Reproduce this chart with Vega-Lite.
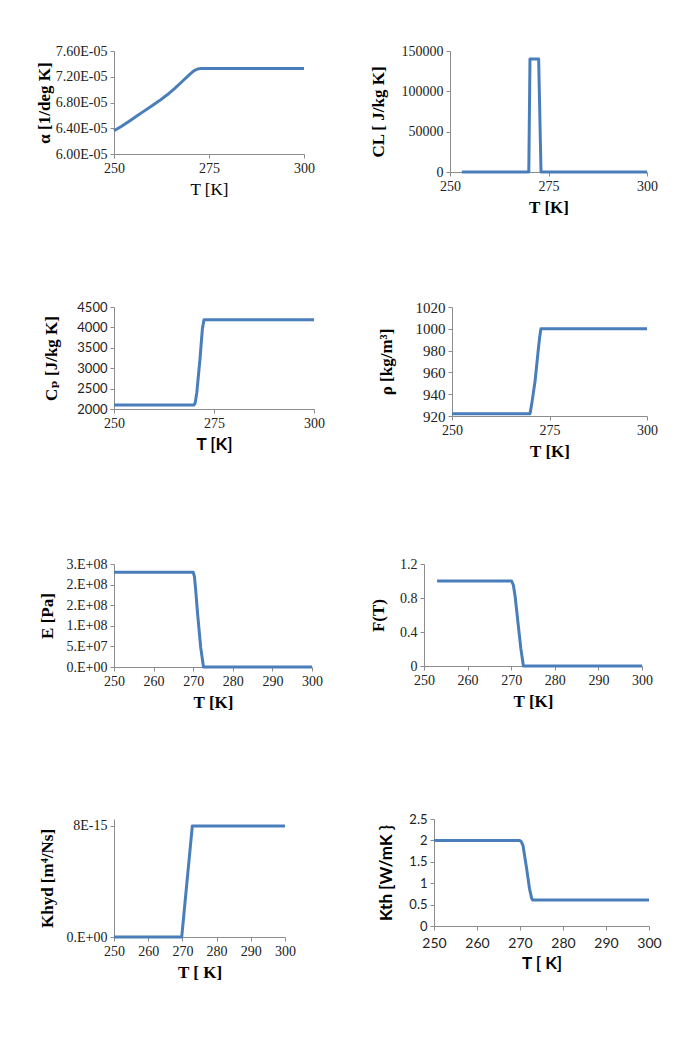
{
"$schema": "https://vega.github.io/schema/vega-lite/v6.json",
"background": "white",
"padding": {"left": 35, "top": 44, "right": 5, "bottom": 5},
"datasets": {
"alpha": [{"T":250,"v":6.36e-5},{"T":252,"v":6.43e-5},{"T":254,"v":6.51e-5},{"T":256,"v":6.59e-5},{"T":258,"v":6.67e-5},{"T":260,"v":6.75e-5},{"T":262,"v":6.83e-5},{"T":264,"v":6.92e-5},{"T":266,"v":7.02e-5},{"T":268,"v":7.13e-5},{"T":270,"v":7.24e-5},{"T":271,"v":7.29e-5},{"T":272,"v":7.32e-5},{"T":273,"v":7.33e-5},{"T":300,"v":7.33e-5}],
"cl": [{"T":253,"v":0},{"T":270,"v":0},{"T":270.3,"v":140000},{"T":272.5,"v":140000},{"T":273.1,"v":0},{"T":300,"v":0}],
"cp": [{"T":250,"v":2100},{"T":270,"v":2100},{"T":270.3,"v":2150},{"T":270.7,"v":2400},{"T":271.5,"v":3230},{"T":272.1,"v":3970},{"T":272.5,"v":4190},{"T":300,"v":4190}],
"rho": [{"T":250,"v":922},{"T":270,"v":922},{"T":270.4,"v":930},{"T":271.3,"v":952},{"T":272.1,"v":980},{"T":272.5,"v":993},{"T":272.8,"v":1000},{"T":300,"v":1000}],
"e": [{"T":250,"v":230000000},{"T":270,"v":230000000},{"T":270.3,"v":220000000},{"T":270.6,"v":190000000},{"T":271.1,"v":130000000},{"T":271.9,"v":47000000},{"T":272.6,"v":0},{"T":300,"v":0}],
"f": [{"T":253,"v":1},{"T":270.1,"v":1},{"T":270.5,"v":0.95},{"T":270.9,"v":0.82},{"T":271.6,"v":0.49},{"T":272.2,"v":0.21},{"T":272.8,"v":0},{"T":300,"v":0}],
"khyd": [{"T":250,"v":0},{"T":269.8,"v":0},{"T":272.9,"v":8e-15},{"T":300,"v":8e-15}],
"kth": [{"T":250,"v":2},{"T":269.9,"v":2},{"T":270.3,"v":1.97},{"T":270.7,"v":1.88},{"T":271.5,"v":1.37},{"T":272.2,"v":0.88},{"T":272.7,"v":0.65},{"T":272.9,"v":0.61},{"T":300,"v":0.61}]
},
"spacing": 85,
"vconcat": [
{"hconcat": [
 {"width": 190, "height": 103, "data": {"name": "alpha"}, "mark": {"type": "line"},
  "encoding": {
   "x": {"field": "T", "type": "quantitative", "scale": {"domain": [250, 300], "nice": false, "zero": false}, "axis": {"values": [250, 275, 300], "format": "d", "title": "T [K]", "titleFontWeight": "normal"}},
   "y": {"field": "v", "type": "quantitative", "scale": {"domain": [6e-5, 7.6e-5], "nice": false, "zero": false}, "axis": {"values": [6e-5, 6.4e-5, 6.8e-5, 7.2e-5, 7.6e-5], "labelExpr": "format(datum.value*100000, '.2f') + 'E-05'", "title": "α [1/deg K]", "titlePadding": 2}}
  }},
 {"width": 197, "height": 121, "data": {"name": "cl"}, "mark": {"type": "line"},
  "encoding": {
   "x": {"field": "T", "type": "quantitative", "scale": {"domain": [250, 300], "nice": false, "zero": false}, "axis": {"values": [250, 275, 300], "format": "d", "title": "T [K]"}},
   "y": {"field": "v", "type": "quantitative", "scale": {"domain": [0, 150000], "nice": false}, "axis": {"values": [0, 50000, 100000, 150000], "format": "d", "title": "CL [ J/kg K]", "titlePadding": 14}}
  }}
 ], "spacing": 146, "bounds": "flush"},
{"spacing": 98, "vconcat": [
 {"hconcat": [
  {"width": 200, "height": 102, "data": {"name": "cp"}, "mark": {"type": "line"},
   "encoding": {
    "x": {"field": "T", "type": "quantitative", "scale": {"domain": [250, 300], "nice": false, "zero": false}, "axis": {"values": [250, 275, 300], "format": "d", "title": "T [K]", "titleFont": "Lato"}},
    "y": {"field": "v", "type": "quantitative", "scale": {"domain": [2000, 4500], "nice": false, "zero": false}, "axis": {"values": [2000, 2500, 3000, 3500, 4000, 4500], "format": "d", "labelFont": "Lato", "labelFontSize": 13, "title": "Cₚ [J/kg K]", "titlePadding": 16}}
   }},
  {"width": 195, "height": 109, "data": {"name": "rho"}, "mark": {"type": "line"},
   "encoding": {
    "x": {"field": "T", "type": "quantitative", "scale": {"domain": [250, 300], "nice": false, "zero": false}, "axis": {"values": [250, 275, 300], "format": "d", "title": "T [K]"}},
    "y": {"field": "v", "type": "quantitative", "scale": {"domain": [920, 1020], "nice": false, "zero": false}, "axis": {"values": [920, 940, 960, 980, 1000, 1020], "format": "d", "labelFontSize": 15, "title": "ρ [kg/m³]", "titlePadding": 20}}
   }}
  ], "spacing": 138, "bounds": "flush"},
 {"spacing": 103, "vconcat": [
  {"hconcat": [
   {"width": 198, "height": 103, "data": {"name": "e"}, "mark": {"type": "line"},
    "encoding": {
     "x": {"field": "T", "type": "quantitative", "scale": {"domain": [250, 300], "nice": false, "zero": false}, "axis": {"values": [250, 260, 270, 280, 290, 300], "format": "d", "title": "T [K]"}},
     "y": {"field": "v", "type": "quantitative", "scale": {"domain": [0, 250000000], "nice": false}, "axis": {"values": [0, 50000000, 100000000, 150000000, 200000000, 250000000], "labelExpr": "datum.value == 0 ? '0.E+00' : datum.value == 50000000 ? '5.E+07' : datum.value == 100000000 ? '1.E+08' : datum.value == 250000000 ? '3.E+08' : '2.E+08'", "title": "E [Pa]", "titlePadding": 10}}
    }},
   {"width": 218, "height": 102, "data": {"name": "f"}, "mark": {"type": "line"},
    "encoding": {
     "x": {"field": "T", "type": "quantitative", "scale": {"domain": [250, 300], "nice": false, "zero": false}, "axis": {"values": [250, 260, 270, 280, 290, 300], "format": "d", "title": "T [K]"}},
     "y": {"field": "v", "type": "quantitative", "scale": {"domain": [0, 1.2], "nice": false}, "axis": {"values": [0, 0.4, 0.8, 1.2], "format": "~g", "title": "F(T)", "titlePadding": 12}}
    }}
   ], "spacing": 112, "bounds": "flush"},
  {"hconcat": [
   {"width": 171, "height": 118, "data": {"name": "khyd"}, "mark": {"type": "line"},
    "encoding": {
     "x": {"field": "T", "type": "quantitative", "scale": {"domain": [250, 300], "nice": false, "zero": false}, "axis": {"values": [250, 260, 270, 280, 290, 300], "format": "d", "title": "T [ K]"}},
     "y": {"field": "v", "type": "quantitative", "scale": {"domain": [0, 8.5e-15], "nice": false}, "axis": {"values": [0, 8e-15], "labelExpr": "datum.value == 0 ? '0.E+00' : '8E-15'", "title": "Khyd [m⁴/Ns]", "titlePadding": 10}}
    }},
   {"width": 215, "height": 107, "data": {"name": "kth"}, "mark": {"type": "line"},
    "encoding": {
     "x": {"field": "T", "type": "quantitative", "scale": {"domain": [250, 300], "nice": false, "zero": false}, "axis": {"values": [250, 260, 270, 280, 290, 300], "format": "d", "labelFont": "Lato", "labelPadding": 6, "title": "T [ K]", "titleFont": "Lato", "titlePadding": 5}},
     "y": {"field": "v", "type": "quantitative", "scale": {"domain": [0, 2.5], "nice": false}, "axis": {"values": [0, 0.5, 1, 1.5, 2, 2.5], "format": "~g", "labelFont": "Lato", "labelFontSize": 13, "title": "Kth [W/mK }", "titleFont": "Lato", "titlePadding": 13}}
    }}
   ], "spacing": 149, "bounds": "flush"}
 ]}
]}
],
"config": {
 "view": {"stroke": null},
 "line": {"color": "#4a7ebb", "strokeWidth": 3, "strokeJoin": "round"},
 "axis": {"grid": false, "domainColor": "#8c8c8c", "tickColor": "#8c8c8c", "tickSize": 4, "labelFont": "Liberation Serif, Times New Roman, Tinos, DejaVu Serif, serif", "labelFontSize": 14, "labelColor": "#222222", "labelPadding": 3, "labelFlush": false, "labelOverlap": false, "labelBound": false, "titleFont": "Liberation Serif, Times New Roman, Tinos, DejaVu Serif, serif", "titleFontSize": 17, "titleColor": "#000000", "titleFontWeight": "bold"},
 "axisX": {"titlePadding": 6}
}
}
